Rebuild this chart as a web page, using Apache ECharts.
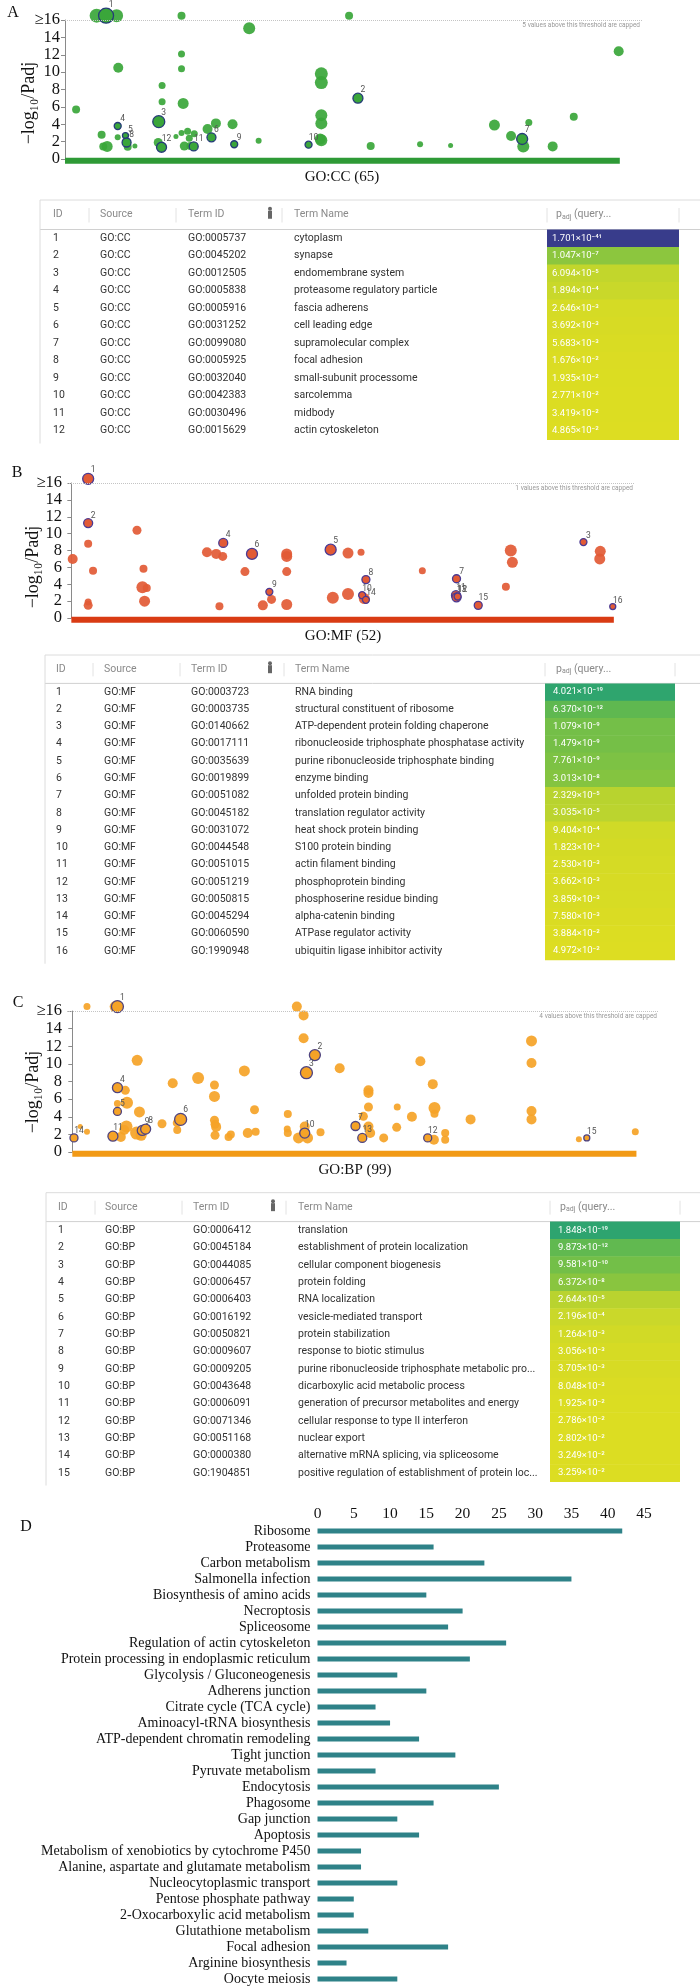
<!DOCTYPE html>
<html><head><meta charset="utf-8">
<script src="https://cdn.jsdelivr.net/npm/echarts@6/dist/echarts.min.js"></script>
<style>html,body{margin:0;padding:0;background:#fff;}#chart{width:700px;height:1988px;}</style>
</head><body><div id="chart"></div>
<script>
// ===== Panel A: GO:CC Manhattan points (position along GO axis, -log10 padj, term size, highlight id) =====
const ccX    = [2.0,5.7,7.4,9.3,9.6,6.6,6.9,7.6,9.5,9.5,10.9,11.1,11.3,12.6,16.9,17.5,17.5,16.8,17.4,20.0,21.0,21.0,21.0,21.3,21.0,21.5,22.1,22.4,23.3,22.6,23.2,25.7,27.2,26.4,30.2,30.5,34.9,33.2,43.9,46.2,46.2,46.2,46.2,46.2,46.0,51.2,52.8,55.1,64.0,69.5,77.4,80.4,82.4,82.6,83.6,87.9,91.7,99.8];
const ccY    = [5.7,16.5,16.5,16.5,10.5,2.8,1.45,1.45,3.8,2.5,2.7,1.9,1.4,1.5,4.3,8.45,6.6,1.9,1.35,2.6,16.5,12.1,10.4,6.4,3.0,1.5,3.2,2.4,2.9,1.5,1.45,3.45,4.1,2.5,4.0,1.7,2.1,15.05,1.65,9.8,8.8,5.05,4.1,2.15,2.3,16.5,7.0,1.5,1.7,1.55,3.9,2.65,2.3,1.45,4.2,1.45,4.85,12.4];
const ccSize = [16,28,30,26,20,16,16,22,14,12,12,18,16,10,24,14,14,18,20,10,16,14,14,22,12,18,14,14,14,16,18,20,20,18,20,14,12,24,14,26,26,24,24,24,22,16,20,16,12,10,22,20,22,24,14,20,16,20];
const ccHit  = [0,0,1,0,0,0,0,0,4,0,5,8,0,0,3,0,0,0,12,0,0,0,0,0,0,0,0,0,0,0,11,0,0,6,0,9,0,0,10,0,0,0,0,0,0,0,2,0,0,0,0,0,7,0,0,0,0,0];

// ===== Panel B: GO:MF =====
const mfX    = [0.25,3.1,3.1,3.1,4.0,3.1,3.1,12.1,13.3,13.1,13.9,13.5,25.0,26.7,27.9,28.0,27.3,32.0,33.3,36.5,36.9,35.3,39.7,39.7,39.7,39.7,47.8,48.2,51.0,51.0,53.4,54.3,53.6,54.0,54.3,64.7,71.0,70.9,71.0,71.2,75.0,81.0,81.3,80.1,94.4,97.5,97.4,99.8];
const mfY    = [7.0,16.5,11.25,8.8,5.6,1.9,1.5,10.4,5.85,3.65,3.55,2.0,7.8,7.6,7.3,8.9,1.4,5.5,7.6,3.1,2.2,1.5,7.6,7.3,5.5,1.6,8.1,2.4,7.7,2.85,7.8,4.55,2.7,2.3,2.15,5.6,4.65,2.7,2.45,2.55,1.5,8.0,6.6,3.7,9.0,7.9,7.0,1.35];
const mfSize = [20,22,18,16,16,14,18,18,16,24,16,22,20,20,18,18,16,18,22,14,18,20,22,22,18,22,22,24,22,24,14,16,14,22,14,14,16,18,18,14,16,24,22,16,14,22,22,12];
const mfHit  = [0,1,2,0,0,0,0,0,0,0,0,0,0,0,0,4,0,0,6,9,0,0,0,0,0,0,5,0,0,0,0,8,10,0,14,0,7,11,13,12,15,0,0,0,3,0,0,16];

// ===== Panel C: GO:BP =====
const bpX    = [2.6,7.6,8.0,1.4,2.6,0.3,8.0,9.4,8.0,8.0,9.7,9.6,9.2,7.2,8.6,11.5,11.9,11.4,12.2,12.4,13.0,15.9,17.8,18.6,18.6,19.2,22.3,25.2,25.2,25.2,25.3,25.5,25.3,27.7,28.1,30.5,31.1,32.3,32.5,38.2,38.1,38.2,39.8,41.0,41.0,43.0,41.5,41.2,41.2,40.1,41.7,44.0,47.4,50.2,51.6,52.5,52.5,52.5,52.5,51.4,52.8,55.2,57.5,57.6,60.2,61.7,63.9,64.2,64.2,63.0,64.1,66.1,66.1,70.6,81.4,81.4,81.4,81.4,89.8,91.2,99.8];
const bpY    = [16.5,16.5,16.5,2.9,2.3,1.6,7.3,7.0,5.5,4.6,5.6,2.9,2.5,1.8,1.7,10.4,4.55,2.15,1.9,2.45,2.6,3.2,7.8,2.5,3.3,3.7,8.4,7.6,6.3,3.6,3.15,2.85,1.9,1.7,2.0,9.2,2.15,4.8,2.3,4.3,2.6,2.15,16.5,15.5,12.9,11.0,9.0,2.9,2.15,1.6,1.6,2.25,9.5,2.95,4.05,7.0,6.7,5.1,2.9,1.6,2.15,1.6,2.8,5.1,4.0,10.3,7.7,5.0,4.35,1.6,1.4,2.15,1.4,3.7,12.6,10.1,4.65,3.7,1.45,1.6,2.3];
const bpSize = [14,22,24,10,12,16,20,18,14,16,24,24,20,20,20,22,22,26,22,20,20,18,20,16,18,24,24,18,22,18,18,20,18,16,16,22,20,18,16,16,14,16,20,20,20,22,24,20,20,22,22,16,20,18,18,20,20,18,20,18,20,18,18,14,20,20,20,24,16,16,20,16,16,20,22,20,20,20,12,12,14];
const bpHit  = [0,0,1,0,0,14,4,0,0,5,0,0,0,11,0,0,0,0,0,9,8,0,0,0,0,6,0,0,0,0,0,0,0,0,0,0,0,0,0,0,0,0,0,0,0,2,3,0,10,0,0,0,0,7,0,0,0,0,0,13,0,0,0,0,0,0,0,0,0,12,0,0,0,0,0,0,0,0,0,15,0];

const scatterTicks = [0,2,4,6,8,10,12,14,16];

// ===== Tables =====
const ccTermIds = ['GO:0005737','GO:0045202','GO:0012505','GO:0005838','GO:0005916','GO:0031252','GO:0099080','GO:0005925','GO:0032040','GO:0042383','GO:0030496','GO:0015629'];
const ccTermNames = ['cytoplasm','synapse','endomembrane system','proteasome regulatory particle','fascia adherens','cell leading edge','supramolecular complex','focal adhesion','small-subunit processome','sarcolemma','midbody','actin cytoskeleton'];
const ccPadj = [1.701e-41,1.047e-7,6.094e-5,1.894e-4,2.646e-3,3.692e-3,5.683e-3,1.676e-2,1.935e-2,2.771e-2,3.419e-2,4.865e-2];

const mfTermIds = ['GO:0003723','GO:0003735','GO:0140662','GO:0017111','GO:0035639','GO:0019899','GO:0051082','GO:0045182','GO:0031072','GO:0044548','GO:0051015','GO:0051219','GO:0050815','GO:0045294','GO:0060590','GO:1990948'];
const mfTermNames = ['RNA binding','structural constituent of ribosome','ATP-dependent protein folding chaperone','ribonucleoside triphosphate phosphatase activity','purine ribonucleoside triphosphate binding','enzyme binding','unfolded protein binding','translation regulator activity','heat shock protein binding','S100 protein binding','actin filament binding','phosphoprotein binding','phosphoserine residue binding','alpha-catenin binding','ATPase regulator activity','ubiquitin ligase inhibitor activity'];
const mfPadj = [4.021e-19,6.370e-12,1.079e-9,1.479e-9,7.761e-9,3.013e-8,2.329e-5,3.035e-5,9.404e-4,1.823e-3,2.530e-3,3.662e-3,3.859e-3,7.580e-3,3.884e-2,4.972e-2];

const bpTermIds = ['GO:0006412','GO:0045184','GO:0044085','GO:0006457','GO:0006403','GO:0016192','GO:0050821','GO:0009607','GO:0009205','GO:0043648','GO:0006091','GO:0071346','GO:0051168','GO:0000380','GO:1904851'];
const bpTermNames = ['translation','establishment of protein localization','cellular component biogenesis','protein folding','RNA localization','vesicle-mediated transport','protein stabilization','response to biotic stimulus','purine ribonucleoside triphosphate metabolic pro...','dicarboxylic acid metabolic process','generation of precursor metabolites and energy','cellular response to type II interferon','nuclear export','alternative mRNA splicing, via spliceosome','positive regulation of establishment of protein loc...'];
const bpPadj = [1.848e-19,9.873e-12,9.581e-10,6.372e-8,2.644e-5,2.196e-4,1.264e-3,3.056e-3,3.705e-3,8.048e-3,1.925e-2,2.786e-2,2.802e-2,3.249e-2,3.259e-2];

// ===== Panel D: KEGG =====
const keggNames = ['Ribosome','Proteasome','Carbon metabolism','Salmonella infection','Biosynthesis of amino acids','Necroptosis','Spliceosome','Regulation of actin cytoskeleton','Protein processing in endoplasmic reticulum','Glycolysis / Gluconeogenesis','Adherens junction','Citrate cycle (TCA cycle)','Aminoacyl-tRNA biosynthesis','ATP-dependent chromatin remodeling','Tight junction','Pyruvate metabolism','Endocytosis','Phagosome','Gap junction','Apoptosis','Metabolism of xenobiotics by cytochrome P450','Alanine, aspartate and glutamate metabolism','Nucleocytoplasmic transport','Pentose phosphate pathway','2-Oxocarboxylic acid metabolism','Glutathione metabolism','Focal adhesion','Arginine biosynthesis','Oocyte meiosis'];
const keggCounts = [42,16,23,35,15,20,18,26,21,11,15,8,10,14,19,8,25,16,11,14,6,6,11,5,5,7,18,4,11];
const keggTicks = [0,5,10,15,20,25,30,35,40,45];

// ---------------------------------------------------------------
const SERIF = '"Liberation Serif","Times New Roman",serif';
const SANS = 'Roboto,"Open Sans",sans-serif';
const grid = [], xAxis = [], yAxis = [], series = [], graphic = [];
const tableSeriesIdx = [];
const BUBBLE = 0.5;

function scatterPanel(P) {
  const gi = grid.length;
  grid.push({left: P.left, top: P.top, width: P.width, height: P.height});
  xAxis.push({gridIndex: gi, type: 'value', min: P.xMin, max: P.xMax, show: false});
  yAxis.push({gridIndex: gi, type: 'value', min: scatterTicks[0], max: scatterTicks[scatterTicks.length-1], interval: 2,
    axisLine: {show: true, lineStyle: {color: '#8a8a8a', width: 1}},
    axisTick: {show: true, length: 4, lineStyle: {color: '#8a8a8a'}},
    splitLine: {show: false},
    axisLabel: {fontFamily: SERIF, fontSize: 16.5, color: '#111', margin: 5,
      formatter: v => v === 16 ? '\u226516' : String(v)}});
  const all = P.xs.map((x, i) => [x, P.ys[i], P.ss[i], P.hs[i]]);
  series.push({type: 'line', xAxisIndex: gi, yAxisIndex: gi, data: [[0, -0.2], [100, -0.2]],
    symbol: 'none', silent: true, clip: false, z: 1, lineStyle: {width: 6, color: P.bar}});
  series.push({type: 'scatter', xAxisIndex: gi, yAxisIndex: gi, clip: false, z: 2,
    data: all.filter(d => !d[3]), symbolSize: d => d[2] * BUBBLE,
    itemStyle: {color: P.color, opacity: 0.92},
    markLine: {silent: true, symbol: ['none', 'none'], animation: false, data: [{yAxis: 16}],
      lineStyle: {type: 'dotted', color: '#c4c4c4', width: 1},
      label: {show: true, position: 'insideEndBottom', formatter: P.capped, fontSize: 6.5, color: '#999', fontFamily: SANS, distance: 2}}});
  series.push({type: 'scatter', xAxisIndex: gi, yAxisIndex: gi, clip: false, z: 3,
    data: all.filter(d => d[3]), symbolSize: d => d[2] * BUBBLE,
    itemStyle: {color: P.color, opacity: 1, borderColor: P.edge, borderWidth: 1.3},
    label: {show: true, position: 'top', distance: 0, offset: [5, 2], formatter: p => String(p.value[3]),
      fontSize: 8.5, color: '#555', fontFamily: SANS}});
}

const SUP = {'-':'\u207b','0':'\u2070','1':'\u00b9','2':'\u00b2','3':'\u00b3','4':'\u2074','5':'\u2075','6':'\u2076','7':'\u2077','8':'\u2078','9':'\u2079'};
function fmtP(p) {
  const parts = p.toExponential(3).split('e');
  return parts[0] + '\u00d710' + String(parseInt(parts[1], 10)).split('').map(c => SUP[c]).join('');
}

function line(x1, y1, x2, y2, color, w) {
  graphic.push({type: 'line', silent: true, shape: {x1, y1, x2, y2}, style: {stroke: color, lineWidth: w || 1}});
}
function label(x, y, text, font, fill, align) {
  graphic.push({type: 'text', silent: true, x, y, style: {text, font, fill: fill || '#111', align: align || 'left', verticalAlign: 'middle'}});
}

function tablePanel(T) {
  const gi = grid.length;
  const n = T.ids.length;
  grid.push({left: 0, right: 0, top: T.rowTop, height: n * T.rowH});
  xAxis.push({gridIndex: gi, type: 'value', min: 0, max: 700, show: false});
  yAxis.push({gridIndex: gi, type: 'category', inverse: true, show: false, data: T.ids.map((_, i) => String(i + 1))});
  const C = T.cols;
  tableSeriesIdx.push(series.length);
  series.push({type: 'custom', xAxisIndex: gi, yAxisIndex: gi, encode: {x: 0, y: 1},
    data: T.padj.map((p, i) => [0, i, Math.log10(-Math.log10(p))]),
    renderItem: (params, api) => {
      const i = params.dataIndex;
      const row = api.value(1);
      const yc = api.coord([0, row])[1];
      const h = api.size([0, 1])[1];
      const X = v => api.coord([v, row])[0];
      const t = (x, s, fill, font) => ({type: 'text', style: {x: X(x), y: yc, text: s, fill: fill || '#333', font: font || ('10.5px ' + SANS), align: 'left', verticalAlign: 'middle'}});
      return {type: 'group', children: [
        {type: 'rect', shape: {x: X(C.c0), y: yc - h / 2, width: X(C.c1) - X(C.c0), height: h + 0.5}, style: {fill: api.visual('color')}},
        t(C.id, String(i + 1)), t(C.src, T.source), t(C.tid, T.ids[i]), t(C.name, T.names[i]),
        t(C.ptxt, fmtP(T.padj[i]), '#ffffff', '9.5px ' + SANS)
      ]};
    }});
  // header & borders
  const bottom = T.rowTop + n * T.rowH;
  line(C.L, T.top, 700, T.top, '#dcdcdc', 1);
  line(C.L, T.hb, 700, T.hb, '#d0d0d0', 1);
  line(C.L, T.top, C.L, bottom + 4, '#dcdcdc', 1);
  [C.sep1, C.sep2, C.sep3, C.c0, C.c1].forEach(x => line(x, T.top + 8, x, T.hb - 7, '#e2e2e2', 1));
  const hy = (T.top + T.hb) / 2;
  const hf = '10.5px ' + SANS;
  label(C.id, hy, 'ID', hf, '#8a8a8a');
  label(C.src, hy, 'Source', hf, '#8a8a8a');
  label(C.tid, hy, 'Term ID', hf, '#8a8a8a');
  label(C.name, hy, 'Term Name', hf, '#8a8a8a');
  graphic.push({type: 'rect', silent: true, shape: {x: C.icon, y: hy - 4, width: 4, height: 8}, style: {fill: '#666'}});
  graphic.push({type: 'circle', silent: true, shape: {cx: C.icon + 2, cy: hy - 6, r: 2}, style: {fill: '#666'}});
  graphic.push({type: 'text', silent: true, x: C.phead, y: hy, style: {
    text: '{p|p}{s|adj}{q| (query...}', verticalAlign: 'middle', align: 'left',
    rich: {p: {fontSize: 10.5, fontFamily: SANS, fill: '#8a8a8a'},
           s: {fontSize: 7, fontFamily: SANS, fill: '#8a8a8a', verticalAlign: 'bottom', padding: [5, 0, 0, 0]},
           q: {fontSize: 10.5, fontFamily: SANS, fill: '#8a8a8a'}}}});
}

// ---- Build panels ----
scatterPanel({left: 65, top: 20, width: 577, height: 139, xMin: 0, xMax: 104,
  xs: ccX, ys: ccY, ss: ccSize, hs: ccHit, color: '#3aa63a', bar: '#2e9a36', edge: '#263c78',
  capped: '5 values above this threshold are capped'});
tablePanel({ids: ccTermIds, names: ccTermNames, padj: ccPadj, source: 'GO:CC',
  top: 200, hb: 229.5, rowTop: 229.5, rowH: 17.5,
  cols: {L: 40, id: 53, sep1: 89, src: 100, sep2: 176, tid: 188, icon: 268, sep3: 282, name: 294, c0: 547, c1: 679, ptxt: 552, phead: 556}});

scatterPanel({left: 67, top: 483, width: 568, height: 135, xMin: -0.8, xMax: 103.9,
  xs: mfX, ys: mfY, ss: mfSize, hs: mfHit, color: '#e25a35', bar: '#d93b14', edge: '#4b3a93',
  capped: '1 values above this threshold are capped'});
tablePanel({ids: mfTermIds, names: mfTermNames, padj: mfPadj, source: 'GO:MF',
  top: 655, hb: 683.4, rowTop: 683.4, rowH: 17.27,
  cols: {L: 45, id: 56, sep1: 93, src: 104, sep2: 180, tid: 191, icon: 268, sep3: 284, name: 295, c0: 545, c1: 675, ptxt: 553, phead: 556}});

scatterPanel({left: 67, top: 1011, width: 592, height: 141, xMin: -0.94, xMax: 104,
  xs: bpX, ys: bpY, ss: bpSize, hs: bpHit, color: '#f5a327', bar: '#f29a16', edge: '#4f4480',
  capped: '4 values above this threshold are capped'});
tablePanel({ids: bpTermIds, names: bpTermNames, padj: bpPadj, source: 'GO:BP',
  top: 1192.7, hb: 1221.6, rowTop: 1221.6, rowH: 17.33,
  cols: {L: 46, id: 58, sep1: 95, src: 105, sep2: 182, tid: 193, icon: 271, sep3: 286, name: 298, c0: 550, c1: 680, ptxt: 558, phead: 560}});

// ---- Panel D bar chart ----
(function () {
  const gi = grid.length;
  grid.push({left: 317.5, width: 326.5, top: 1523, height: 464});
  xAxis.push({gridIndex: gi, type: 'value', position: 'top', min: keggTicks[0], max: keggTicks[keggTicks.length - 1], interval: 5,
    axisLine: {show: false}, axisTick: {show: false}, splitLine: {show: false},
    axisLabel: {fontFamily: SERIF, fontSize: 15.5, color: '#111', margin: 1}});
  yAxis.push({gridIndex: gi, type: 'category', inverse: true, data: keggNames,
    axisLine: {show: false}, axisTick: {show: false},
    axisLabel: {fontFamily: SERIF, fontSize: 14, color: '#111', margin: 7, interval: 0}});
  series.push({type: 'bar', xAxisIndex: gi, yAxisIndex: gi, data: keggCounts, barWidth: 5,
    itemStyle: {color: '#2e8288'}, silent: true});
})();

// ---- Panel letters, axis names ----
const letterFont = '16px ' + SERIF;
label(13, 13, 'A', letterFont, '#111', 'center');
label(17, 473, 'B', letterFont, '#111', 'center');
label(18, 1003, 'C', letterFont, '#111', 'center');
label(26, 1527, 'D', letterFont, '#111', 'center');
const nameFont = '15px ' + SERIF;
label(342, 177, 'GO:CC (65)', nameFont, '#111', 'center');
label(343, 636, 'GO:MF (52)', nameFont, '#111', 'center');
label(355, 1170, 'GO:BP (99)', nameFont, '#111', 'center');
[[29, 103], [33, 567], [33, 1092]].forEach(p => {
  graphic.push({type: 'text', silent: true, x: p[0], y: p[1], rotation: Math.PI / 2,
    style: {text: '\u2212log\u2081\u2080/Padj', font: '18px ' + SERIF, fill: '#111', align: 'center', verticalAlign: 'middle'}});
});

const chart = echarts.init(document.getElementById('chart'), null, {renderer: 'canvas'});
chart.setOption({
  animation: false,
  backgroundColor: '#ffffff',
  grid, xAxis, yAxis, series, graphic,
  visualMap: [{type: 'continuous', show: false, seriesIndex: tableSeriesIdx, dimension: 2,
    min: 0.11, max: 1.61,
    inRange: {color: ['#dddd22', '#d9dc23', '#c6d72b', '#88c53f', '#52b456', '#1a9c7c', '#383c8b']}}]
});
</script></body></html>
